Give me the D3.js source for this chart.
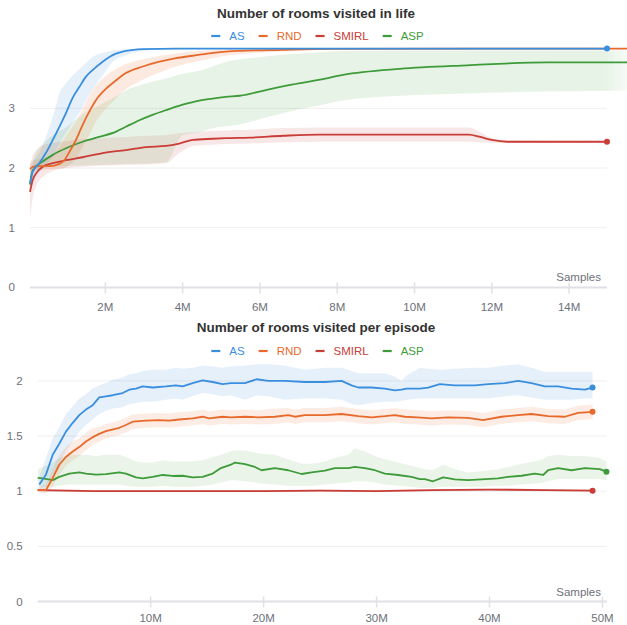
<!DOCTYPE html>
<html>
<head>
<meta charset="utf-8">
<script src="https://cdn.jsdelivr.net/npm/d3@7"></script>
<style>
  body { margin: 0; background: #fff; }
  svg { display: block; font-family: "Liberation Sans", Arial, Helvetica, sans-serif; }
</style>
</head>
<body>
<svg id="chart" width="627" height="625"></svg>
<script>
// ---- series ----
const seriesNames = ["AS", "RND", "SMIRL", "ASP"];
const seriesColors = ["#3a8ede", "#e8692c", "#c93d36", "#3e9b3a"];

// Rooms visited in life: [samples (M), mean, lower, upper]
const lifeAS = [
  [0.05, 1.74, 1.55, 1.85], [0.12, 1.94, 1.75, 2.05], [0.29, 2.08, 1.92, 2.25],
  [0.46, 2.25, 2.05, 2.52], [0.64, 2.47, 2.19, 2.85], [0.81, 2.69, 2.40, 3.25],
  [0.98, 2.92, 2.58, 3.42], [1.15, 3.17, 2.75, 3.55], [1.33, 3.36, 2.92, 3.66],
  [1.50, 3.53, 3.12, 3.76], [1.67, 3.64, 3.31, 3.86], [1.93, 3.78, 3.55, 3.93],
  [2.19, 3.89, 3.78, 3.97], [2.53, 3.96, 3.89, 3.99], [2.97, 3.99, 3.96, 4.00],
  [3.83, 4.00, 3.99, 4.00], [14.98, 4.00, 3.99, 4.00]
];
const lifeRND = [
  [0.05, 1.98, 1.90, 2.08], [0.12, 2.02, 1.95, 2.12], [0.29, 2.03, 1.97, 2.15],
  [0.55, 2.03, 1.98, 2.20], [0.81, 2.07, 1.99, 2.35], [0.94, 2.13, 2.00, 2.50],
  [1.07, 2.27, 2.05, 2.62], [1.24, 2.47, 2.15, 2.78], [1.41, 2.72, 2.35, 2.98],
  [1.58, 2.94, 2.55, 3.20], [1.76, 3.14, 2.78, 3.38], [2.02, 3.33, 3.00, 3.55],
  [2.28, 3.47, 3.17, 3.66], [2.53, 3.59, 3.32, 3.74], [2.97, 3.70, 3.48, 3.82],
  [3.40, 3.78, 3.60, 3.88], [3.83, 3.84, 3.70, 3.92], [4.26, 3.88, 3.77, 3.95],
  [4.69, 3.92, 3.83, 3.97], [5.12, 3.95, 3.88, 3.99], [6.60, 3.98, 3.95, 4.00],
  [7.81, 3.995, 3.98, 4.00], [15.6, 4.00, 3.99, 4.00]
];
const lifeSMIRL = [
  [0.05, 1.60, 1.15, 2.05], [0.12, 1.80, 1.50, 2.20], [0.21, 1.91, 1.70, 2.30],
  [0.38, 2.02, 1.85, 2.38], [0.64, 2.08, 1.95, 2.42], [0.98, 2.13, 2.00, 2.45],
  [1.41, 2.18, 2.02, 2.48], [1.93, 2.25, 2.04, 2.50], [2.53, 2.30, 2.05, 2.52],
  [3.05, 2.35, 2.06, 2.54], [3.57, 2.37, 2.08, 2.55], [3.91, 2.41, 2.25, 2.58],
  [4.26, 2.47, 2.37, 2.60], [4.78, 2.49, 2.39, 2.62], [5.12, 2.50, 2.40, 2.63],
  [5.74, 2.51, 2.41, 2.64], [6.60, 2.54, 2.43, 2.67], [7.55, 2.56, 2.44, 2.68],
  [11.40, 2.56, 2.44, 2.68], [11.70, 2.52, 2.43, 2.60], [12.00, 2.47, 2.42, 2.50],
  [12.40, 2.44, 2.42, 2.46], [14.98, 2.44, 2.43, 2.45]
];
const lifeASP = [
  [0.05, 1.72, 1.60, 1.85], [0.12, 1.96, 1.90, 2.10], [0.38, 2.11, 2.00, 2.40],
  [0.64, 2.22, 2.02, 2.55], [0.98, 2.33, 2.03, 2.68], [1.41, 2.44, 2.04, 2.90],
  [1.84, 2.52, 2.05, 3.05], [2.28, 2.61, 2.06, 3.20], [2.53, 2.69, 2.07, 3.30],
  [2.88, 2.80, 2.07, 3.38], [3.22, 2.89, 2.08, 3.45], [3.57, 2.97, 2.10, 3.50],
  [4.00, 3.06, 2.55, 3.58], [4.43, 3.13, 2.60, 3.63], [4.86, 3.17, 2.68, 3.72],
  [5.12, 3.19, 2.70, 3.78], [5.48, 3.21, 2.73, 3.82], [6.18, 3.31, 2.85, 3.87],
  [6.86, 3.40, 2.96, 3.91], [7.55, 3.48, 3.05, 3.94], [8.15, 3.56, 3.13, 3.96],
  [9.62, 3.66, 3.21, 3.97], [11.36, 3.72, 3.25, 3.97], [13.43, 3.77, 3.28, 3.97],
  [15.6, 3.77, 3.30, 3.97]
];

// Rooms visited per episode: [samples (M), mean, lower, upper]
const episodeAS = [
  [0.14, 1.06, 1.00, 1.13], [0.73, 1.15, 1.03, 1.30], [1.33, 1.33, 1.15, 1.48],
  [1.91, 1.43, 1.24, 1.58], [2.50, 1.54, 1.36, 1.70], [3.10, 1.62, 1.45, 1.77],
  [3.68, 1.69, 1.54, 1.84], [4.27, 1.74, 1.60, 1.88], [4.87, 1.78, 1.65, 1.93],
  [5.45, 1.85, 1.70, 1.96], [6.04, 1.86, 1.73, 1.98], [6.64, 1.87, 1.75, 2.01],
  [7.52, 1.89, 1.76, 2.03], [8.10, 1.92, 1.79, 2.06], [8.70, 1.93, 1.80, 2.07],
  [9.29, 1.95, 1.81, 2.09], [10.18, 1.94, 1.81, 2.10], [11.35, 1.95, 1.83, 2.10],
  [12.24, 1.96, 1.84, 2.12], [12.83, 1.95, 1.83, 2.11], [13.72, 1.98, 1.86, 2.12],
  [14.60, 2.005, 1.89, 2.14], [15.49, 1.99, 1.88, 2.13], [16.37, 1.97, 1.86, 2.12],
  [17.10, 1.98, 1.87, 2.13], [18.35, 1.98, 1.83, 2.14], [19.38, 2.015, 1.87, 2.15],
  [20.40, 2.00, 1.86, 2.15], [21.88, 2.00, 1.83, 2.14], [23.65, 1.99, 1.84, 2.10],
  [25.42, 1.99, 1.84, 2.12], [26.90, 2.00, 1.83, 2.12], [27.79, 1.96, 1.79, 2.09],
  [28.37, 1.94, 1.78, 2.07], [29.56, 1.94, 1.80, 2.07], [30.73, 1.93, 1.81, 2.07],
  [31.62, 1.915, 1.81, 2.04], [32.20, 1.92, 1.82, 2.00], [32.65, 1.93, 1.83, 2.05],
  [33.83, 1.93, 1.84, 2.12], [34.57, 1.94, 1.84, 2.11], [35.60, 1.97, 1.84, 2.10],
  [36.90, 1.96, 1.84, 2.11], [38.70, 1.96, 1.84, 2.12], [39.88, 1.97, 1.84, 2.12],
  [41.35, 1.98, 1.86, 2.14], [42.53, 2.00, 1.87, 2.15], [43.72, 1.98, 1.85, 2.12],
  [44.90, 1.95, 1.83, 2.08], [46.07, 1.95, 1.83, 2.08], [47.26, 1.93, 1.83, 2.08],
  [48.44, 1.92, 1.84, 2.08], [49.12, 1.94, 1.84, 2.08]
];
const episodeRND = [
  [0.00, 1.01, 0.99, 1.03], [0.73, 1.01, 0.98, 1.06], [1.33, 1.12, 1.04, 1.20],
  [1.91, 1.24, 1.15, 1.33], [2.50, 1.31, 1.23, 1.40], [3.10, 1.36, 1.28, 1.45],
  [3.68, 1.40, 1.32, 1.48], [4.27, 1.45, 1.37, 1.53], [4.87, 1.49, 1.42, 1.57],
  [5.45, 1.52, 1.45, 1.585], [6.04, 1.545, 1.48, 1.61], [7.22, 1.575, 1.51, 1.64],
  [7.81, 1.60, 1.535, 1.665], [8.41, 1.63, 1.565, 1.695], [9.58, 1.64, 1.575, 1.705],
  [10.76, 1.645, 1.58, 1.71], [11.65, 1.64, 1.575, 1.705], [12.53, 1.65, 1.585, 1.715],
  [13.72, 1.66, 1.595, 1.725], [14.60, 1.675, 1.61, 1.74], [15.19, 1.66, 1.595, 1.725],
  [16.37, 1.675, 1.61, 1.74], [17.10, 1.67, 1.605, 1.735], [18.35, 1.675, 1.61, 1.74],
  [19.50, 1.67, 1.605, 1.735], [21.00, 1.675, 1.61, 1.75], [22.18, 1.69, 1.625, 1.755],
  [22.77, 1.675, 1.61, 1.74], [23.65, 1.69, 1.625, 1.755], [25.42, 1.69, 1.625, 1.755],
  [26.90, 1.70, 1.635, 1.765], [28.37, 1.68, 1.615, 1.745], [29.56, 1.67, 1.605, 1.735],
  [30.73, 1.68, 1.615, 1.745], [31.62, 1.69, 1.625, 1.755], [32.50, 1.675, 1.61, 1.74],
  [33.60, 1.67, 1.605, 1.735], [34.87, 1.66, 1.595, 1.725], [36.34, 1.67, 1.605, 1.735],
  [38.10, 1.665, 1.60, 1.73], [39.43, 1.645, 1.58, 1.71], [41.06, 1.675, 1.61, 1.74],
  [42.53, 1.69, 1.625, 1.755], [43.72, 1.70, 1.635, 1.765], [45.19, 1.68, 1.615, 1.745],
  [46.66, 1.675, 1.61, 1.74], [47.84, 1.71, 1.645, 1.775], [49.12, 1.72, 1.655, 1.785]
];
const episodeSMIRL = [
  [0.00, 1.01, 1.00, 1.02], [5.00, 1.00, 0.99, 1.01], [10.00, 1.00, 0.99, 1.01],
  [20.00, 1.00, 0.99, 1.01], [25.00, 1.005, 0.995, 1.015], [30.00, 1.00, 0.99, 1.01],
  [35.00, 1.01, 1.00, 1.02], [40.00, 1.015, 1.005, 1.025], [45.00, 1.01, 1.00, 1.02],
  [49.12, 1.005, 0.995, 1.015]
];
const episodeASP = [
  [0.00, 1.12, 1.04, 1.20], [0.44, 1.117, 1.04, 1.22], [1.33, 1.10, 1.04, 1.26],
  [1.91, 1.13, 1.05, 1.30], [2.80, 1.16, 1.06, 1.33], [3.68, 1.17, 1.06, 1.33],
  [4.27, 1.16, 1.06, 1.33], [5.16, 1.15, 1.06, 1.32], [6.04, 1.155, 1.06, 1.33],
  [7.22, 1.17, 1.06, 1.33], [7.81, 1.16, 1.05, 1.31], [8.70, 1.125, 1.04, 1.27],
  [9.29, 1.117, 1.04, 1.26], [10.18, 1.13, 1.04, 1.26], [11.06, 1.147, 1.05, 1.28],
  [11.95, 1.138, 1.04, 1.27], [12.83, 1.14, 1.04, 1.27], [13.72, 1.126, 1.04, 1.27],
  [14.60, 1.13, 1.05, 1.28], [15.49, 1.16, 1.06, 1.31], [16.22, 1.21, 1.08, 1.33],
  [17.10, 1.24, 1.10, 1.36], [17.46, 1.26, 1.10, 1.37], [18.35, 1.245, 1.09, 1.37],
  [19.23, 1.22, 1.08, 1.35], [19.82, 1.19, 1.07, 1.34], [21.00, 1.21, 1.06, 1.33],
  [22.18, 1.19, 1.05, 1.29], [23.36, 1.156, 1.05, 1.25], [24.25, 1.17, 1.05, 1.25],
  [25.42, 1.186, 1.06, 1.27], [26.31, 1.21, 1.07, 1.30], [27.49, 1.21, 1.08, 1.33],
  [28.08, 1.22, 1.09, 1.39], [28.96, 1.21, 1.09, 1.36], [29.85, 1.19, 1.08, 1.32],
  [30.73, 1.16, 1.06, 1.29], [31.91, 1.147, 1.05, 1.26], [33.10, 1.13, 1.04, 1.23],
  [33.83, 1.11, 1.03, 1.21], [34.27, 1.11, 1.03, 1.20], [35.00, 1.09, 1.03, 1.19],
  [35.90, 1.126, 1.04, 1.24], [36.93, 1.108, 1.04, 1.20], [38.10, 1.10, 1.04, 1.17],
  [39.29, 1.108, 1.04, 1.18], [40.76, 1.117, 1.05, 1.20], [41.65, 1.13, 1.05, 1.22],
  [42.83, 1.14, 1.06, 1.25], [44.00, 1.16, 1.07, 1.27], [44.74, 1.147, 1.08, 1.29],
  [45.19, 1.19, 1.09, 1.32], [46.07, 1.21, 1.11, 1.33], [47.26, 1.19, 1.11, 1.32],
  [48.44, 1.21, 1.11, 1.32], [49.76, 1.20, 1.11, 1.30], [50.35, 1.177, 1.10, 1.27]
];

// ---- axes ----
const lifeXTicks = [2, 4, 6, 8, 10, 12, 14];
const lifeYTicks = [0, 1, 2, 3];
const episodeXTicks = [10, 20, 30, 40, 50];
const episodeYTicks = [0, 0.5, 1, 1.5, 2];
const xAxisName = "Samples";

const svg = d3.select("#chart");
svg.append("rect").attr("width", 627).attr("height", 625).attr("fill", "#fff");

// Soft fade for shaded bands that run past the right edge of the grid
const defs = svg.append("defs");
const fade = defs.append("linearGradient").attr("id", "edgeFade")
  .attr("gradientUnits", "userSpaceOnUse").attr("x1", 605).attr("x2", 627).attr("y1", 0).attr("y2", 0);
fade.append("stop").attr("offset", 0).attr("stop-color", "#fff");
fade.append("stop").attr("offset", 1).attr("stop-color", "#666");
defs.append("mask").attr("id", "bandMask").attr("maskUnits", "userSpaceOnUse")
  .attr("x", 0).attr("y", 0).attr("width", 627).attr("height", 625)
  .append("rect").attr("width", 627).attr("height", 625).attr("fill", "url(#edgeFade)");

function drawPanel(cfg) {
  const g = svg.append("g");
  const x = d3.scaleLinear().domain(cfg.xDomain).range(cfg.xRange);
  const y = d3.scaleLinear().domain(cfg.yDomain).range(cfg.yRange);
  const [x0, x1] = cfg.xRange;
  const y0 = y(0);

  // title
  g.append("text").attr("x", 316).attr("y", cfg.titleY)
    .attr("text-anchor", "middle").attr("font-size", 13.5).attr("font-weight", "bold")
    .attr("fill", "#333").text(cfg.title);

  // legend
  const leg = g.append("g");
  let cursor = 0;
  seriesNames.forEach((name, i) => {
    const item = leg.append("g").attr("transform", `translate(${cursor},0)`);
    item.append("line").attr("x1", 0).attr("x2", 9).attr("y1", 0).attr("y2", 0)
      .attr("stroke", seriesColors[i]).attr("stroke-width", 2.2);
    const t = item.append("text").attr("x", 18).attr("y", 0).attr("dy", "0.35em")
      .attr("font-size", 11.5).attr("fill", seriesColors[i]).text(name);
    cursor += 18 + t.node().getComputedTextLength() + 14;
  });
  const legW = cursor - 14;
  leg.attr("transform", `translate(${317.5 - legW / 2},${cfg.legendY})`);

  // grid
  g.append("g").selectAll("line").data(cfg.yTicks.filter(d => d !== 0)).join("line")
    .attr("x1", x0).attr("x2", x1).attr("y1", d => y(d)).attr("y2", d => y(d))
    .attr("stroke", "#eeeeee").attr("stroke-width", 1);

  // y labels
  g.append("g").selectAll("text").data(cfg.yTicks).join("text")
    .attr("x", x0 - 15).attr("y", d => y(d)).attr("dy", "0.35em")
    .attr("text-anchor", "end").attr("font-size", 11.5).attr("fill", "#6e7079")
    .text(d => d3.format("~g")(d));

  // x axis line, ticks and labels
  g.append("line").attr("x1", x0).attr("x2", x1).attr("y1", y0).attr("y2", y0)
    .attr("stroke", "#e0e0e6").attr("stroke-width", 2);
  g.append("g").selectAll("line").data(cfg.xTicks).join("line")
    .attr("x1", d => x(d)).attr("x2", d => x(d)).attr("y1", y0 - 5).attr("y2", y0 + 6)
    .attr("stroke", "#e0e0e6").attr("stroke-width", 1.5);
  g.append("g").selectAll("text").data(cfg.xTicks).join("text")
    .attr("x", d => x(d)).attr("y", y0 + cfg.xLabelGap).attr("text-anchor", "middle")
    .attr("font-size", 11.5).attr("fill", "#6e7079").text(d => d + "M");
  g.append("text").attr("x", 601).attr("y", y0 - 6).attr("text-anchor", "end")
    .attr("font-size", 11.5).attr("fill", "#6e7079").text(xAxisName);

  const curve = cfg.curve;
  const area = d3.area().x(d => x(d[0])).y0(d => y(d[2])).y1(d => y(d[3])).curve(curve);
  const line = d3.line().x(d => x(d[0])).y(d => y(d[1])).curve(curve);

  const bands = g.append("g");
  if (cfg.fadeEdge) bands.attr("mask", "url(#bandMask)");
  cfg.series.forEach((s, i) => {
    bands.append("path").attr("d", area(s)).attr("fill", seriesColors[i])
      .attr("fill-opacity", cfg.bandOpacity[i]).attr("stroke", "none");
  });

  const lines = g.append("g");
  cfg.series.map((s, i) => i).reverse().forEach(i => {
    const s = cfg.series[i];
    lines.append("path").attr("d", line(s)).attr("fill", "none")
      .attr("stroke", seriesColors[i]).attr("stroke-width", 1.8)
      .attr("stroke-linejoin", "round");
    const last = s[s.length - 1];
    lines.append("circle").attr("cx", x(last[0])).attr("cy", y(last[1])).attr("r", 3)
      .attr("fill", seriesColors[i]);
  });
}

drawPanel({
  title: "Number of rooms visited in life",
  titleY: 18, legendY: 36,
  xDomain: [0.05, 14.98], xRange: [30, 607],
  yDomain: [0, 4], yRange: [287.4, 48.6],
  xTicks: lifeXTicks, yTicks: lifeYTicks, xLabelGap: 23.5,
  series: [lifeAS, lifeRND, lifeSMIRL, lifeASP],
  bandOpacity: [0.13, 0.14, 0.12, 0.12],
  curve: d3.curveMonotoneX, fadeEdge: true
});

drawPanel({
  title: "Number of rooms visited per episode",
  titleY: 332.3, legendY: 351,
  xDomain: [0, 50.4], xRange: [37.7, 607],
  yDomain: [0, 2], yRange: [601.5, 380.9],
  xTicks: episodeXTicks, yTicks: episodeYTicks, xLabelGap: 20,
  series: [episodeAS, episodeRND, episodeSMIRL, episodeASP],
  bandOpacity: [0.13, 0.13, 0.12, 0.11],
  curve: d3.curveLinear, fadeEdge: false
});
</script>
</body>
</html>
